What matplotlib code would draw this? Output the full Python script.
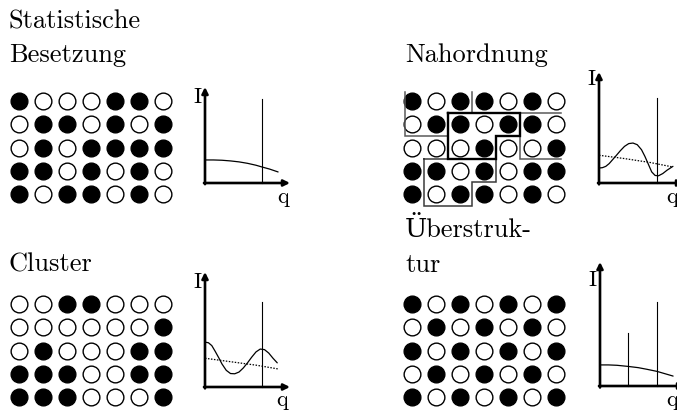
import matplotlib
matplotlib.use("Agg")
import matplotlib.pyplot as plt

W, H = 677, 412
SERIF = ['cmr10', 'DejaVu Serif']

# ---- lattice occupation (1 = black atom, 0 = white atom) ----
grid_statistisch = [
    [1, 0, 0, 0, 1, 1, 0],
    [0, 1, 1, 0, 1, 0, 1],
    [0, 1, 0, 1, 1, 1, 1],
    [1, 1, 0, 1, 0, 1, 0],
    [1, 0, 1, 1, 0, 1, 0],
]
grid_nahordnung = [
    [1, 0, 1, 1, 0, 1, 0],
    [0, 1, 1, 0, 1, 1, 0],
    [0, 0, 0, 1, 0, 0, 1],
    [1, 1, 0, 1, 0, 1, 1],
    [1, 0, 1, 1, 0, 1, 0],
]
grid_cluster = [
    [0, 0, 1, 1, 0, 0, 0],
    [0, 0, 0, 0, 0, 0, 1],
    [0, 1, 0, 0, 0, 1, 1],
    [1, 1, 1, 0, 0, 1, 1],
    [1, 1, 1, 0, 0, 0, 1],
]
grid_ueberstruktur = [
    [1, 0, 1, 0, 1, 0, 1],
    [0, 1, 0, 1, 0, 1, 0],
    [1, 0, 1, 0, 1, 0, 1],
    [0, 1, 0, 1, 0, 1, 0],
    [1, 0, 1, 0, 1, 0, 1],
]

# ---- domains in the "Nahordnung" lattice (grid units: col, row) ----
domain_thick = [(1.5, 0.5), (4.5, 0.5), (4.5, 1.5), (3.5, 1.5), (3.5, 2.5), (1.5, 2.5), (1.5, 0.5)]
domain_topleft = [(-0.3, -0.4), (-0.3, 1.5), (1.5, 1.5), (1.5, 0.5), (2.5, 0.5), (2.5, -0.4)]
domain_right = [(6.2, 0.5), (4.5, 0.5), (4.5, 2.5), (6.2, 2.5)]
domain_bottom = [(0.5, 2.5), (0.5, 4.5), (2.5, 4.5), (2.5, 3.5), (3.5, 3.5), (3.5, 2.5), (0.5, 2.5)]

# ---- scattering intensities I(q) (normalised axes units) ----
q_stat = [0, 0.1, 0.2, 0.3, 0.4, 0.5, 0.6, 0.67, 0.76, 0.86]
I_stat = [0.24, 0.24, 0.237, 0.23, 0.22, 0.205, 0.185, 0.167, 0.145, 0.115]
peaks_stat_q = [0.67]
peaks_stat_I = [0.875]

q_nah = [0, 0.04, 0.08, 0.12, 0.16, 0.2, 0.25, 0.3, 0.35, 0.4, 0.45, 0.5,
         0.54, 0.58, 0.62, 0.66, 0.7, 0.75, 0.8, 0.87]
I_nah = [0.135, 0.138, 0.15, 0.175, 0.21, 0.245, 0.29, 0.33, 0.355, 0.36, 0.345, 0.3,
         0.24, 0.17, 0.1, 0.068, 0.065, 0.085, 0.115, 0.15]
q_nah_dot = [0, 0.3, 0.6, 0.87]
I_nah_dot = [0.25, 0.22, 0.185, 0.144]
peaks_nah_q = [0.68]
peaks_nah_I = [0.77]

q_clu = [0, 0.04, 0.08, 0.12, 0.165, 0.2, 0.25, 0.3, 0.35, 0.4, 0.45, 0.5,
         0.55, 0.6, 0.65, 0.7, 0.75, 0.8, 0.85]
I_clu = [0.39, 0.385, 0.36, 0.31, 0.25, 0.2, 0.145, 0.117, 0.115, 0.13, 0.165, 0.21,
         0.26, 0.305, 0.33, 0.325, 0.295, 0.25, 0.21]
q_clu_dot = [0, 0.3, 0.6, 0.86]
I_clu_dot = [0.25, 0.22, 0.19, 0.157]
peaks_clu_q = [0.67]
peaks_clu_I = [0.74]

q_ueb = [0, 0.1, 0.2, 0.33, 0.45, 0.55, 0.67, 0.76, 0.86]
I_ueb = [0.17, 0.17, 0.167, 0.158, 0.148, 0.135, 0.118, 0.1, 0.08]
peaks_ueb_q = [0.33, 0.67]
peaks_ueb_I = [0.43, 0.68]

titles_left_top = ["Statistische", "Besetzung"]
titles_right_top = ["Nahordnung"]
titles_left_bottom = ["Cluster"]
titles_right_bottom = ["Überstruk-", "tur"]

fig = plt.figure(figsize=(W / 100, H / 100), dpi=100)
fig.patch.set_facecolor('white')


def px_axes(left, top, right, bottom):
    ax = fig.add_axes([left / W, 1 - bottom / H, (right - left) / W, (bottom - top) / H])
    ax.set_axis_off()
    return ax


def draw_grid(grid, left, top, right, bottom, domains=()):
    ax = px_axes(left, top, right, bottom)
    ax.set_xlim(-0.5, 6.5)
    ax.set_ylim(4.5, -0.5)
    for r, row in enumerate(grid):
        for c, v in enumerate(row):
            ax.scatter(c, r, s=145, facecolor='black' if v else 'white',
                       edgecolor='black', linewidth=1.0, zorder=3, clip_on=False)
    for pts, color, lw, z in domains:
        xs = [p[0] for p in pts]
        ys = [p[1] for p in pts]
        ax.plot(xs, ys, color=color, lw=lw, zorder=z, clip_on=False,
                solid_joinstyle='miter')
    return ax


def draw_plot(ox, oy, xend, ytop, q, I, pq, pI, qd=None, Id=None):
    ax = px_axes(ox, ytop, xend, oy)
    ax.set_xlim(0, 1)
    ax.set_ylim(0, 1)
    ax.annotate('', xy=(1, 0), xytext=(-0.012, 0),
                arrowprops=dict(arrowstyle='-|>', lw=1.9, color='black',
                                mutation_scale=9, shrinkA=0, shrinkB=0),
                annotation_clip=False)
    ax.annotate('', xy=(0, 1), xytext=(0, -0.012),
                arrowprops=dict(arrowstyle='-|>', lw=1.9, color='black',
                                mutation_scale=9, shrinkA=0, shrinkB=0),
                annotation_clip=False)
    for x, h in zip(pq, pI):
        ax.plot([x, x], [0, h], color='black', lw=0.8, clip_on=False)
    ax.plot(q, I, color='black', lw=0.9, clip_on=False,
            solid_joinstyle='round', solid_capstyle='round')
    if qd is not None:
        ax.plot(qd, Id, color='black', lw=0.9, ls=(0, (1.2, 1.2)), clip_on=False)
    return ax


# lattices
draw_grid(grid_statistisch, 7, 89.5, 175, 205.5)
draw_grid(grid_nahordnung, 400, 89.5, 568, 205.5, domains=[
    (domain_topleft, '#5a5a5a', 1.1, 4),
    (domain_right, '#5a5a5a', 1.1, 4),
    (domain_bottom, '#3a3a3a', 1.1, 4),
    (domain_thick, 'black', 1.7, 5),
])
draw_grid(grid_cluster, 7, 292.5, 175, 408.5)
draw_grid(grid_ueberstruktur, 400, 292.5, 568, 408.5)

# intensity sketches
draw_plot(205, 183, 290, 87, q_stat, I_stat, peaks_stat_q, peaks_stat_I)
draw_plot(599, 183, 684, 72, q_nah, I_nah, peaks_nah_q, peaks_nah_I, q_nah_dot, I_nah_dot)
draw_plot(205, 387, 290, 272, q_clu, I_clu, peaks_clu_q, peaks_clu_I, q_clu_dot, I_clu_dot)
draw_plot(600, 386, 685, 262, q_ueb, I_ueb, peaks_ueb_q, peaks_ueb_I)

# text layer in pixel coordinates
tx = fig.add_axes([0, 0, 1, 1], zorder=10)
tx.set_xlim(0, W)
tx.set_ylim(H, 0)
tx.set_axis_off()
tx.patch.set_alpha(0)

FS = 19
for i, t in enumerate(titles_left_top):
    tx.text(9, 28 + 34 * i, t, fontsize=FS, family=SERIF, va='baseline', ha='left')
for i, t in enumerate(titles_right_top):
    tx.text(405, 62 + 34 * i, t, fontsize=FS, family=SERIF, va='baseline', ha='left')
for i, t in enumerate(titles_left_bottom):
    tx.text(8, 271 + 34 * i, t, fontsize=FS, family=SERIF, va='baseline', ha='left')
for i, t in enumerate(titles_right_bottom):
    tx.text(405, 237 + 35 * i, t, fontsize=FS, family=SERIF, va='baseline', ha='left')

LF = 16
for (x, y) in [(197, 97), (591, 79), (197, 282), (592, 280)]:
    tx.text(x, y, 'I', fontsize=LF, family=SERIF, ha='center', va='center')
for (x, y) in [(283, 197), (672, 197), (282, 400), (672, 400)]:
    tx.text(x, y, 'q', fontsize=LF, family=SERIF, ha='center', va='center')

fig.savefig('out.png', dpi=100, facecolor='white')
